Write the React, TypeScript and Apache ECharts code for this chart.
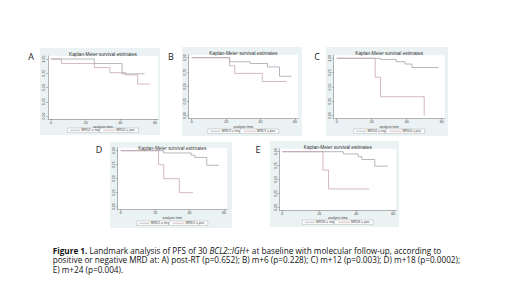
import React, { useEffect, useRef } from "react";
import * as echarts from "echarts";

// ---- data ----
const panelLetters = ["A", "B", "C", "D", "E"];
const groupVars = ["MRD2", "MRD3", "MRD4", "MRD5", "MRD6"];
const chartTitle = "Kaplan-Meier survival estimates";
const xAxisTitle = "analysis time";
const xTicks = [0, 20, 40, 60];
const yTicks = [0, 0.25, 0.5, 0.75, 1];

const negA = [[0, 1], [25, 0.92], [41, 0.74], [54, 0.74]];
const posA = [[0, 1], [6, 0.92], [25, 0.85], [34, 0.76], [43, 0.72], [50, 0.56], [57, 0.56]];
const negB = [[0, 1], [22, 0.93], [34, 0.9], [44, 0.84], [51, 0.68], [58, 0.68]];
const posB = [[0, 1], [22, 0.86], [25, 0.73], [41, 0.59], [55, 0.59]];
const negC = [[0, 1], [25, 0.98], [34, 0.94], [39, 0.9], [43, 0.84], [58, 0.84]];
const posC = [[0, 1], [22, 0.67], [25, 0.33], [50, 0]];
const negD = [[0, 1], [25, 0.96], [41, 0.92], [43, 0.88], [50, 0.74], [57, 0.74]];
const posD = [[0, 1], [22, 0.75], [25, 0.5], [34, 0.25], [42, 0.25]];
const negE = [[0, 1], [33, 0.96], [41, 0.91], [43, 0.86], [50, 0.74], [57, 0.74]];
const posE = [[0, 1], [22, 0.67], [25, 0.33], [47, 0.33]];

const negSeries = [negA, negB, negC, negD, negE];
const posSeries = [posA, posB, posC, posD, posE];

const captionLines = [
  "{b|Figure 1.} Landmark analysis of PFS of 30 {i|BCL2::IGH}+ at baseline with molecular follow-up, according to",
  "positive or negative MRD at: A) post-RT (p=0.652); B) m+6 (p=0.228); C) m+12 (p=0.003); D) m+18 (p=0.0002);",
  "E) m+24 (p=0.004).",
];

// ---- layout (pixels) ----
type Panel = {
  box: [number, number, number, number];
  x0: number; x60: number; y1: number; y0: number;
  letter: [number, number];
};
const layout: Panel[] = [
  { box: [40, 48, 160, 135], x0: 51, x60: 155, y1: 59, y0: 116, letter: [31, 56] },
  { box: [182, 47, 302, 136], x0: 191.7, x60: 295, y1: 57.7, y0: 115.7, letter: [171, 56] },
  { box: [326, 47, 448, 136], x0: 336.7, x60: 441.7, y1: 58.3, y0: 115.7, letter: [317, 56] },
  { box: [110, 142, 232, 228], x0: 120.7, x60: 224, y1: 150.7, y0: 206.7, letter: [99, 149] },
  { box: [270, 141, 399, 227], x0: 282.3, x60: 393.3, y1: 151.7, y0: 207.3, letter: [258, 149] },
];

const NEG_COLOR = "#98a0aa";
const POS_COLOR = "#c6a2a9";
const BG = "#EAF2F3";
const AXIS = "#6b6b6b";
const SANS = "Liberation Sans";
const CAP_FONT = "Open Sans";
const CAP_SIZE = 8.2;
const M = 3;

function buildOption() {
  const grids: any[] = [];
  const xAxes: any[] = [];
  const yAxes: any[] = [];
  const series: any[] = [];
  const graphics: any[] = [];

  layout.forEach((p, i) => {
    const pxX = (p.x60 - p.x0) / 60;
    const pxY = p.y0 - p.y1;
    const gLeft = p.x0 - M;
    const gTop = p.y1 - M;
    const gW = p.x60 - p.x0 + 2 * M;
    const gH = p.y0 - p.y1 + 2 * M;
    const cx = gLeft + gW / 2;
    const [bx0, by0, bx1, by1] = p.box;

    graphics.push({
      type: "rect", z: -10, silent: true,
      shape: { x: bx0, y: by0, width: bx1 - bx0, height: by1 - by0 },
      style: { fill: BG },
    });
    graphics.push({
      type: "text", z: 10,
      style: {
        text: chartTitle, x: cx, y: by0 + 6, align: "center", verticalAlign: "middle",
        fontSize: 4.8, fontFamily: SANS, fill: "#333",
      },
    });
    graphics.push({
      type: "text", z: 10,
      style: {
        text: panelLetters[i], x: p.letter[0], y: p.letter[1], align: "center", verticalAlign: "middle",
        fontSize: 9, fontFamily: CAP_FONT, fill: "#222",
      },
    });
    const ly = by1 - 4.8;
    graphics.push({
      type: "group", z: 10,
      children: [
        { type: "rect", shape: { x: cx - 35.5, y: ly - 2.2, width: 71, height: 4.4 }, style: { fill: "#fff", stroke: "#a0a0a0", lineWidth: 0.4 } },
        { type: "line", shape: { x1: cx - 33, y1: ly, x2: cx - 23, y2: ly }, style: { stroke: NEG_COLOR, lineWidth: 0.7 } },
        { type: "text", style: { text: `${groupVars[i]} = neg`, x: cx - 21.7, y: ly, verticalAlign: "middle", fontSize: 3.3, fontFamily: SANS, fill: "#444" } },
        { type: "line", shape: { x1: cx + 0.3, y1: ly, x2: cx + 12.3, y2: ly }, style: { stroke: POS_COLOR, lineWidth: 0.7 } },
        { type: "text", style: { text: `${groupVars[i]} = pos`, x: cx + 13.3, y: ly, verticalAlign: "middle", fontSize: 3.3, fontFamily: SANS, fill: "#444" } },
      ],
    });

    grids.push({
      left: gLeft, top: gTop, width: gW, height: gH,
      show: true, backgroundColor: "#ffffff", borderWidth: 0,
    });
    xAxes.push({
      type: "value", gridIndex: i,
      min: -M / pxX, max: 60 + M / pxX,
      axisLine: { show: true, onZero: false, lineStyle: { color: AXIS, width: 0.5 } },
      axisTick: { show: true, customValues: xTicks, length: 1.5, lineStyle: { color: AXIS, width: 0.5 } },
      axisLabel: { customValues: xTicks, fontSize: 3.5, margin: 1.5, color: "#444", fontFamily: SANS },
      splitLine: { show: false },
      name: xAxisTitle, nameLocation: "middle", nameGap: 5.5,
      nameTextStyle: { fontSize: 3.4, color: "#444", fontFamily: SANS },
    });
    yAxes.push({
      type: "value", gridIndex: i,
      min: -M / pxY, max: 1 + M / pxY,
      axisLine: { show: true, onZero: false, lineStyle: { color: AXIS, width: 0.5 } },
      axisTick: { show: true, customValues: yTicks, length: 1.5, lineStyle: { color: AXIS, width: 0.5 } },
      axisLabel: {
        customValues: yTicks, fontSize: 3.5, margin: 1.6, rotate: 90, color: "#444", fontFamily: SANS,
        formatter: (v: number) => v.toFixed(2),
      },
      splitLine: { show: false },
    });
    series.push({
      type: "line", name: `${groupVars[i]} = neg`, xAxisIndex: i, yAxisIndex: i,
      data: negSeries[i], step: "end", showSymbol: false, symbol: "none",
      lineStyle: { color: NEG_COLOR, width: 0.75 }, itemStyle: { color: NEG_COLOR },
    });
    series.push({
      type: "line", name: `${groupVars[i]} = pos`, xAxisIndex: i, yAxisIndex: i,
      data: posSeries[i], step: "end", showSymbol: false, symbol: "none",
      lineStyle: { color: POS_COLOR, width: 0.75 }, itemStyle: { color: POS_COLOR },
    });
  });

  const capY = [250.1, 259.6, 269.1];
  captionLines.forEach((line, k) => {
    graphics.push({
      type: "text", z: 10,
      style: {
        text: line, x: 52.7, y: capY[k], verticalAlign: "middle",
        fontSize: CAP_SIZE, fontFamily: CAP_FONT, fill: "#111",
        rich: {
          b: { fontWeight: "bold", fontSize: CAP_SIZE, fontFamily: CAP_FONT, fill: "#111" },
          i: { fontStyle: "italic", fontSize: CAP_SIZE, fontFamily: CAP_FONT, fill: "#111" },
        },
      },
    });
  });

  return {
    animation: false,
    backgroundColor: "#ffffff",
    grid: grids,
    xAxis: xAxes,
    yAxis: yAxes,
    series,
    graphic: graphics,
  };
}

export default function App() {
  const ref = useRef<HTMLDivElement>(null);
  useEffect(() => {
    if (!ref.current) return;
    const chart = echarts.init(ref.current, undefined, { renderer: "svg" });
    chart.setOption(buildOption() as any);
    return () => chart.dispose();
  }, []);
  return (
    <div
      ref={ref}
      style={{ position: "fixed", left: 0, top: 0, width: 520, height: 292, background: "#fff" }}
    />
  );
}
